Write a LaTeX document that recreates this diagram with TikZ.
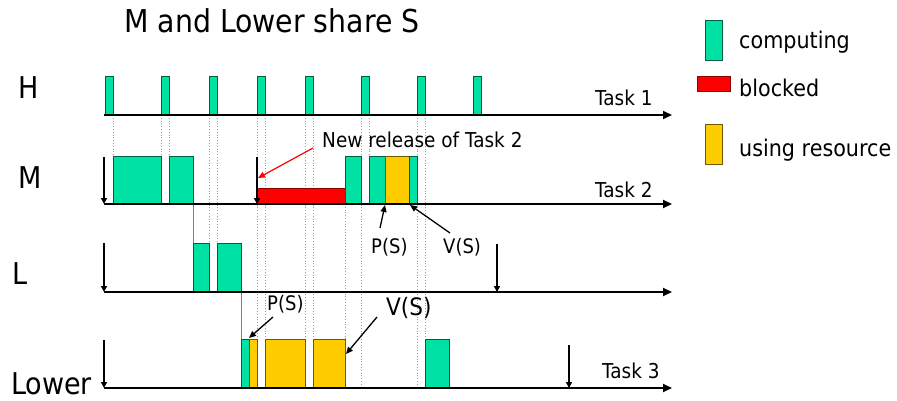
\documentclass[tikz,border=0pt]{standalone}
\usepackage{fontspec}
\setmainfont[FakeStretch=0.9]{DejaVu Sans}
\usetikzlibrary{arrows.meta}
\definecolor{compcol}{RGB}{0,226,164}
\definecolor{compedge}{RGB}{0,95,65}
\definecolor{rescol}{RGB}{255,204,0}
\definecolor{resedge}{RGB}{110,88,0}
\definecolor{blkcol}{RGB}{255,0,0}
\definecolor{blkedge}{RGB}{140,0,0}
\tikzset{
  comp/.style={fill=compcol,draw=compedge,line width=0.9pt},
  res/.style={fill=rescol,draw=resedge,line width=0.9pt},
  blk/.style={fill=blkcol,draw=blkedge,line width=0.9pt},
  guide/.style={draw=black!40,dotted,line width=0.8pt},
  handoff/.style={draw=black!50,line width=1pt},
  axis/.style={draw=black,line width=1.8pt,-{Triangle[length=9pt,width=8pt]}},
  release/.style={draw=black,line width=1.6pt,-{Triangle[length=6pt,width=6pt]}},
  pointer/.style={draw=black,line width=1.3pt,-{Triangle[length=7pt,width=6pt]}},
  redpointer/.style={draw=red,line width=1.2pt,-{Triangle[length=7pt,width=6pt]}},
  biglabel/.style={font=\fontsize{30}{30}\selectfont,anchor=base west,inner sep=0pt},
  titlelabel/.style={font=\fontsize{31.5}{31.5}\selectfont,anchor=base west,inner sep=0pt},
  smalllabel/.style={font=\fontsize{20.5}{20.5}\selectfont,anchor=base west,inner sep=0pt},
  legendlabel/.style={font=\fontsize{23}{23}\selectfont,anchor=base west,inner sep=0pt},
  pslabel/.style={font=\fontsize{20}{20}\selectfont,anchor=base west,inner sep=0pt},
  vslabel/.style={font=\fontsize{24}{24}\selectfont,anchor=base west,inner sep=0pt},
}
\begin{document}
\begin{tikzpicture}[x=1pt,y=-1pt]
\useasboundingbox (0,0) rectangle (897,401);

% guide lines (dotted)
\foreach \gx/\gy/\gz in {113/115/156,161/115/156,169/115/156,209/115/243,217/115/243,
  257/115/339,265/115/339,305/115/339,313/115/339,345/204/339,361/115/388,
  369/115/156,417/115/388,425/115/339}
  \draw[guide] (\gx,\gy) -- (\gx,\gz);
\draw[handoff] (193,204) -- (193,243);
\draw[handoff] (241,292) -- (241,339);

% axes
\coordinate (hs) at (104,115); \coordinate (he) at (672,115);
\coordinate (ms) at (104,204); \coordinate (me) at (672,204);
\coordinate (ls) at (104,292); \coordinate (le) at (672,292);
\coordinate (ws) at (104,388); \coordinate (we) at (672,388);

% H boxes
\foreach \bx in {105,161,209,257,305,361,417,473}
  \path[comp] (\bx,76) rectangle ++(8,39);
% M boxes
\path[comp] (113,156) rectangle (161,204);
\path[comp] (169,156) rectangle (193,204);
\path[blk] (257,188) rectangle (345,204);
\path[comp] (345,156) rectangle (361,204);
\path[comp] (369,156) rectangle (385,204);
\path[res] (385,156) rectangle (409,204);
\path[comp] (409,156) rectangle (417,204);
% L boxes
\path[comp] (193,243) rectangle (209,292);
\path[comp] (217,243) rectangle (241,292);
% Lower boxes
\path[comp] (241,339) rectangle (249,388);
\path[res] (249,339) rectangle (257,388);
\path[res] (265,339) rectangle (305,388);
\path[res] (313,339) rectangle (345,388);
\path[comp] (425,339) rectangle (449,388);

\draw[axis] (hs) -- (he);
\draw[axis] (ms) -- (me);
\draw[axis] (ls) -- (le);
\draw[axis] (ws) -- (we);

% release arrows
\coordinate (r1a) at (104,157); \coordinate (r1b) at (104,204);
\coordinate (r2a) at (257,157); \coordinate (r2b) at (257,204);
\coordinate (r3a) at (104,243); \coordinate (r3b) at (104,292);
\coordinate (r4a) at (497,244); \coordinate (r4b) at (497,292);
\coordinate (r5a) at (104,340); \coordinate (r5b) at (104,388);
\coordinate (r6a) at (569,345); \coordinate (r6b) at (569,388);
\draw[release] (r1a) -- (r1b);
\draw[release] (r2a) -- (r2b);
\draw[release] (r3a) -- (r3b);
\draw[release] (r4a) -- (r4b);
\draw[release] (r5a) -- (r5b);
\draw[release] (r6a) -- (r6b);

% labels
\node[titlelabel] (title) at (124,33) {M and Lower share S};
\node[biglabel] (lh) at (18,99) {H};
\node[biglabel] (lm) at (18,188) {M};
\node[biglabel] (ll) at (12,284) {L};
\node[biglabel] (lw) at (11,394) {Lower};
\node[smalllabel] (t1) at (595,106) {Task 1};
\node[smalllabel] (t2) at (595,197) {Task 2};
\node[smalllabel] (t3) at (602,378) {Task 3};
\node[smalllabel] (nr) at (322,148) {New release of Task 2};

\node[pslabel] (mps) at (371,253) {P(S)};
\node[pslabel] (mvs) at (443,253) {V(S)};
\node[pslabel] (wps) at (267,310) {P(S)};
\node[vslabel] (wvs) at (386,315) {V(S)};

% pointers
\coordinate (nrtail) at (313,148); \coordinate (nrtip) at (258,178);
\draw[redpointer] (nrtail) -- (nrtip);
\coordinate (mpsa) at (380,228); \coordinate (mpsb) at (385,205);
\draw[pointer] (mpsa) -- (mpsb);
\coordinate (mvsa) at (450,233); \coordinate (mvsb) at (410,205);
\draw[pointer] (mvsa) -- (mvsb);
\coordinate (wpsa) at (273,317); \coordinate (wpsb) at (249,338);
\draw[pointer] (wpsa) -- (wpsb);
\coordinate (wvsa) at (377,317); \coordinate (wvsb) at (346,354);
\draw[pointer] (wvsa) -- (wvsb);

% legend
\path[comp] (705,20) rectangle (722,60);
\path[blk] (697,76) rectangle (730,91);
\path[res] (705,124) rectangle (722,164);
\node[legendlabel] (lgc) at (739,49) {computing};
\node[legendlabel] (lgb) at (739,97) {blocked};
\node[legendlabel] (lgr) at (739,157) {using resource};
\end{tikzpicture}
\end{document}
